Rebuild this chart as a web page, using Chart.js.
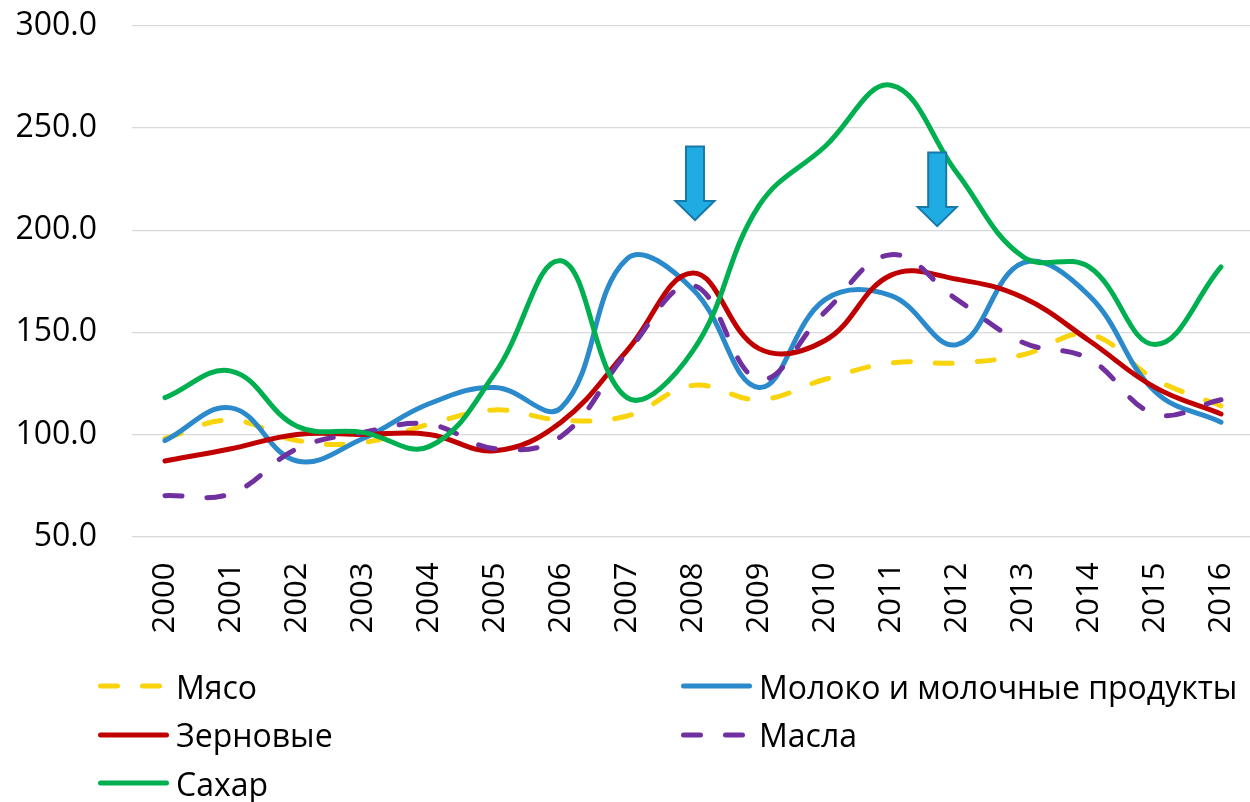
<!DOCTYPE html>
<html>
<head>
<meta charset="utf-8">
<script src="https://cdn.jsdelivr.net/npm/chart.js@4/dist/chart.umd.min.js"></script>
<style>
  html, body { margin: 0; padding: 0; background: #fff; overflow: hidden; }
  #wrap { position: absolute; left: 0; top: 0; width: 1254px; height: 650px; }
  #legend { position: absolute; left: 0; top: 0; width: 1250px; height: 802px; pointer-events: none; }
  .item { position: absolute; height: 40px; display: flex; align-items: center;
          font-family: "Open Sans", sans-serif; font-size: 32px; color: #000; white-space: nowrap; }
  .item svg { margin-right: 7px; }
</style>
</head>
<body>
<div id="wrap"><canvas id="myChart" width="1254" height="650"></canvas></div>
<div id="legend"></div>
<script>
var years = ['2000','2001','2002','2003','2004','2005','2006','2007','2008','2009','2010','2011','2012','2013','2014','2015','2016'];
var meat    = [98, 107, 97, 96, 105, 112, 107, 109, 124, 117, 127, 135, 135, 139, 149, 127, 114];
var milk    = [97, 113, 87, 98, 115, 123, 113, 186, 171, 123, 166, 168, 144, 184, 168, 121, 106];
var cereals = [87, 93, 100, 100, 100, 92, 106, 141, 179, 142, 146, 178, 176, 167, 146, 123, 110];
var oils    = [70, 71, 93, 101, 105, 93, 99, 140, 173, 127, 160, 188, 166, 145, 137, 110, 117];
var sugar   = [118, 131, 104, 101, 94, 130, 185, 118, 141, 212, 241, 271, 228, 187, 182, 144, 182];

// arrows (category index, top value, tip value)
var arrowX   = [8.03, 11.7];
var arrowTop = [241, 238];
var arrowTip = [205, 202];

var dash = [17, 25];
var fontFamily = '"Open Sans", sans-serif';

function ds(label, data, color, dashed, order) {
	return {
		label: label,
		data: data,
		borderColor: color,
		backgroundColor: color,
		borderWidth: 5,
		borderDash: dashed ? dash : [],
		borderCapStyle: 'round',
		borderJoinStyle: 'round',
		pointRadius: 0,
		tension: 0.4,
		fill: false,
		order: order
	};
}

var datasets = [
	ds('Мясо', meat, '#F9D40C', true, 5),
	ds('Молоко и молочные продукты', milk, '#2B8ACB', false, 4),
	ds('Зерновые', cereals, '#C00000', false, 3),
	ds('Масла', oils, '#7030A0', true, 2),
	ds('Сахар', sugar, '#00B050', false, 1)
];

var arrowPlugin = {
	id: 'arrows',
	afterDatasetsDraw: function(chart) {
		var ctx = chart.ctx;
		var xs = chart.scales.x, ys = chart.scales.y;
		for (var i = 0; i < arrowX.length; i++) {
			var cx = xs.getPixelForValue(arrowX[i]);
			var top = ys.getPixelForValue(arrowTop[i]);
			var tip = ys.getPixelForValue(arrowTip[i]);
			var headLen = 19, shaftW = 9, headW = 19.5;
			var neck = tip - headLen;
			ctx.save();
			ctx.beginPath();
			ctx.moveTo(cx - shaftW, top);
			ctx.lineTo(cx + shaftW, top);
			ctx.lineTo(cx + shaftW, neck);
			ctx.lineTo(cx + headW, neck);
			ctx.lineTo(cx, tip);
			ctx.lineTo(cx - headW, neck);
			ctx.lineTo(cx - shaftW, neck);
			ctx.closePath();
			ctx.fillStyle = '#1FACE3';
			ctx.fill();
			ctx.lineWidth = 2;
			ctx.strokeStyle = '#1779A8';
			ctx.stroke();
			ctx.restore();
		}
	}
};

var ctx = document.getElementById('myChart').getContext('2d');
var chart = new Chart(ctx, {
	type: 'line',
	data: { labels: years, datasets: datasets },
	options: {
		responsive: false,
		devicePixelRatio: 1,
		animation: false,
		layout: { padding: { top: 26, left: 0, right: 0, bottom: 0 } },
		plugins: { legend: { display: false }, tooltip: { enabled: false } },
		scales: {
			x: {
				offset: true,
				grid: { display: false, drawTicks: false },
				border: { display: false },
				ticks: {
					color: '#000',
					font: { family: fontFamily, size: 31 },
					minRotation: 90,
					maxRotation: 90,
					padding: 26,
					autoSkip: false
				},
				afterFit: function(s) { s.height = 113.5; s.paddingLeft = 0; s.paddingRight = 0; }
			},
			y: {
				min: 50,
				max: 300,
				grid: { color: '#D9D9D9', lineWidth: 1.3, drawTicks: false },
				border: { display: false },
				ticks: {
					stepSize: 50,
					color: '#000',
					font: { family: fontFamily, size: 32 },
					padding: 35,
					callback: function(v) { return v.toFixed(1); }
				},
				afterFit: function(s) { s.width = 132; s.paddingTop = 0; s.paddingBottom = 0; }
			}
		}
	},
	plugins: [arrowPlugin]
});

// html legend, two columns
var legend = document.getElementById('legend');
var colX = [98, 681];
var rowY = [686, 734.5, 783];
chart.data.datasets.forEach(function(d, i) {
	var item = document.createElement('div');
	item.className = 'item';
	item.style.left = colX[i % 2] + 'px';
	item.style.top = (rowY[Math.floor(i / 2)] - 20) + 'px';
	var dashAttr = d.borderDash.length ? ' stroke-dasharray="' + d.borderDash.join(' ') + '"' : '';
	item.innerHTML = '<svg width="71" height="10"><line x1="2.5" y1="5" x2="68.5" y2="5" stroke="' + d.borderColor +
		'" stroke-width="5" stroke-linecap="round"' + dashAttr + '/></svg><span>' + d.label + '</span>';
	legend.appendChild(item);
});
</script>
</body>
</html>
